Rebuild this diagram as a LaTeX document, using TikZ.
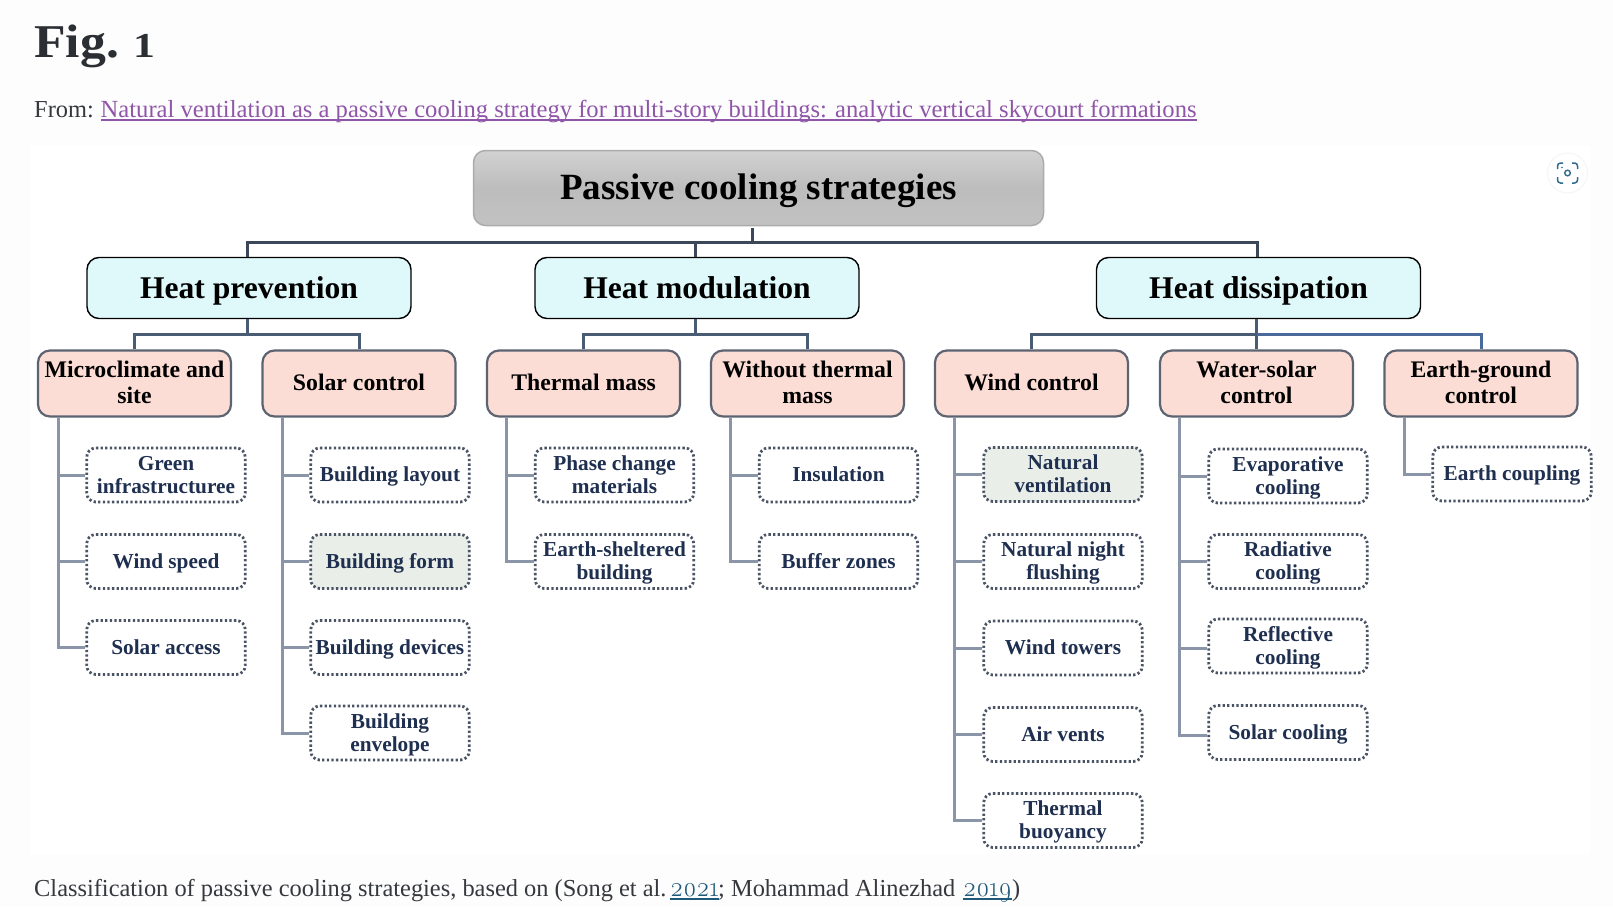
\documentclass[tikz,border=0pt]{standalone}
\usepackage{fontspec}
\usepackage{graphicx}
\setmainfont{Liberation Serif}
\newfontfamily\osf[Numbers=OldStyle]{Latin Modern Roman}
\usetikzlibrary{calc}
\definecolor{pagebg}{HTML}{FDFDFD}
\definecolor{headink}{HTML}{2B2E33}
\definecolor{bodyink}{HTML}{35383D}
\definecolor{linkp}{HTML}{8F55A8}
\definecolor{linkb}{HTML}{1F5A7A}
\definecolor{rootedge}{HTML}{ABABAB}
\definecolor{aquafill}{HTML}{DFF9FB}
\definecolor{pinkfill}{HTML}{FBDDD5}
\definecolor{pinkedge}{HTML}{5C6472}
\definecolor{dotedge}{HTML}{4A5464}
\definecolor{greenfill}{HTML}{E9EEE9}
\definecolor{leafink}{HTML}{1F2F50}
\definecolor{busdark}{HTML}{3C4859}
\definecolor{busmid}{HTML}{4A5C74}
\definecolor{busblue}{HTML}{4A6A9C}
\definecolor{trunk}{HTML}{8A96A8}
\definecolor{iconc}{HTML}{2F6A8F}
\newcommand\lvA[1]{\raisebox{0pt}[30pt][8pt]{#1}}
\newcommand\lvB[1]{\raisebox{0pt}[24pt][4pt]{#1}}
\newcommand\lvC[1]{\raisebox{0pt}[18pt][5pt]{#1}}
\newcommand\lvO[1]{\raisebox{0pt}[16pt][3pt]{#1}}
\newcommand\lvT[1]{\raisebox{0pt}[16pt][3pt]{#1}}
\tikzset{
 rootbox/.style={rectangle,rounded corners=12pt,draw=rootedge,line width=1.5pt,top color=black!18,bottom color=black!24,middle color=black!26,inner sep=0pt,minimum width=570pt,minimum height=75pt,font=\fontsize{37}{42}\selectfont\bfseries,text=black},
 headbox/.style={rectangle,rounded corners=12pt,draw=black,line width=1.4pt,fill=aquafill,inner sep=0pt,minimum width=324pt,minimum height=61pt,font=\fontsize{31.6}{35}\selectfont\bfseries,text=black},
 catbox/.style={rectangle,rounded corners=12pt,draw=pinkedge,line width=2.2pt,fill=pinkfill,inner sep=0pt,minimum width=193pt,minimum height=66pt,align=center,font=\fontsize{23.75}{26}\selectfont\bfseries,text=black},
 leafbox/.style={rectangle,rounded corners=9pt,draw=dotedge,line width=2.8pt,dash pattern=on 2.3pt off 2.3pt,inner sep=0pt,minimum width=158.5pt,minimum height=54pt,align=center,font=\fontsize{21.3}{23}\selectfont\bfseries,text=leafink},
 busa/.style={draw=busdark,line width=3pt},
 busb/.style={draw=busmid,line width=3pt},
 busc/.style={draw=busblue,line width=3pt},
 branch/.style={draw=trunk,line width=3pt},
 iconline/.style={draw=iconc,line width=1.5pt,rounded corners=3pt},
 headline/.style={anchor=base west,inner sep=0pt,text=bodyink,font=\fontsize{24.4}{28}\selectfont},
 linkline/.style={anchor=base west,inner sep=0pt,font=\fontsize{24.6}{28}\selectfont},
}
\begin{document}
\begin{tikzpicture}[x=1pt,y=-1pt]
\useasboundingbox (0,0) rectangle (1613,907);
\fill[pagebg] (0,0) rectangle (1613,907);
\fill[white] (30,146) rectangle (1590,855);

% page text
\node[anchor=base west,inner sep=0pt,text=headink,font=\fontsize{47}{50}\selectfont\bfseries] (figt) at (34,57) {\scalebox{1.1}[1]{Fig.}};
\node[anchor=base west,inner sep=0pt,text=headink,font=\fontsize{35}{40}\selectfont\bfseries] (fign) at (133,57) {\scalebox{1.25}[1]{1}};
\node[headline] (fromt) at (34,117) {From:};
\node[linkline,text=linkp] (linkt) at (100.5,117) {Natural ventilation as a passive cooling strategy for multi-story buildings: analytic vertical skycourt formations};
\draw[linkp,line width=1.2pt] ([yshift=-3pt]linkt.base west) -- ([yshift=-3pt]linkt.base east);
\node[headline] (capa) at (34,896) {Classification of passive cooling strategies, based on (Song et al.};
\node[linkline,text=linkb,font=\fontsize{28}{28}\osf] (yra) at (670,896) {\scalebox{.9}[1]{2021}};
\draw[linkb,line width=1.2pt] ([yshift=-3pt]yra.base west) -- ([yshift=-3pt]yra.base east);
\node[headline] (capb) at (718,896) {; Mohammad Alinezhad};
\node[linkline,text=linkb,font=\fontsize{28}{28}\osf] (yrb) at (963,896) {\scalebox{.9}[1]{2019}};
\draw[linkb,line width=1.2pt] ([yshift=-3pt]yrb.base west) -- ([yshift=-3pt]yrb.base east);
\node[headline] (capc) at (1012,896) {)};

% icon
\fill[white,draw=black!4,line width=1pt] (1567.5,173) circle (20);
\draw[iconline] (1557.5,169) -- (1557.5,163) -- (1563,163);
\draw[iconline] (1572,163) -- (1577.5,163) -- (1577.5,169);
\draw[iconline] (1557.5,177) -- (1557.5,183) -- (1563,183);
\draw[iconline] (1572,183) -- (1577.5,183) -- (1577.5,177);
\draw[iconc,line width=1.4pt] (1567.5,173) circle (2.8);
\fill[iconc] (1562,167.5) circle (0.9);

% level 0 and 1
\node[rootbox] (root) at (758.5,188) {\lvA{Passive cooling strategies}};
\node[headbox] (hp) at (249,288) {\lvB{Heat prevention}};
\node[headbox] (hm) at (697,288) {\lvB{Heat modulation}};
\node[headbox] (hd) at (1258.5,288) {\lvB{Heat dissipation}};

% level 2
\node[catbox] (micro) at (134.5,383.5) {\lvC{Microclimate and}\\\lvC{site}};
\node[catbox] (solar) at (359,383.5) {\lvC{Solar control}};
\node[catbox] (tmass) at (583.5,383.5) {\lvC{Thermal mass}};
\node[catbox] (wmass) at (807.5,383.5) {\lvC{Without thermal}\\\lvC{mass}};
\node[catbox] (wind) at (1031.5,383.5) {\lvC{Wind control}};
\node[catbox] (water) at (1256.5,383.5) {\lvC{Water-solar}\\\lvC{control}};
\node[catbox] (earth) at (1481,383.5) {\lvC{Earth-ground}\\\lvC{control}};

% level 3
\node[leafbox] (green) at (166,475) {\lvT{Green}\\\lvT{infrastructuree}};
\node[leafbox] (wspeed) at (166,561.5) {\lvO{Wind speed}};
\node[leafbox] (access) at (166,647.5) {\lvO{Solar access}};
\node[leafbox] (layout) at (390,475) {\lvO{Building layout}};
\node[leafbox,fill=greenfill] (bform) at (390,561.5) {\lvO{Building form}};
\node[leafbox] (devices) at (390,647.5) {\lvO{Building devices}};
\node[leafbox] (envelope) at (390,733) {\lvT{Building}\\\lvT{envelope}};
\node[leafbox] (phase) at (614.5,475) {\lvT{Phase change}\\\lvT{materials}};
\node[leafbox] (shelter) at (614.5,561.5) {\lvT{Earth-sheltered}\\\lvT{building}};
\node[leafbox] (insul) at (838.5,475) {\lvO{Insulation}};
\node[leafbox] (buffer) at (838.5,561.5) {\lvO{Buffer zones}};
\node[leafbox,fill=greenfill] (natvent) at (1063,474.5) {\lvT{Natural}\\\lvT{ventilation}};
\node[leafbox] (night) at (1063,561.5) {\lvT{Natural night}\\\lvT{flushing}};
\node[leafbox] (towers) at (1063,648) {\lvO{Wind towers}};
\node[leafbox] (vents) at (1063,734.5) {\lvO{Air vents}};
\node[leafbox] (buoy) at (1063,820.5) {\lvT{Thermal}\\\lvT{buoyancy}};
\node[leafbox] (evap) at (1288,476) {\lvT{Evaporative}\\\lvT{cooling}};
\node[leafbox] (radi) at (1288,561.5) {\lvT{Radiative}\\\lvT{cooling}};
\node[leafbox] (refl) at (1288,646) {\lvT{Reflective}\\\lvT{cooling}};
\node[leafbox] (scool) at (1288,732.5) {\lvO{Solar cooling}};
\node[leafbox] (ecoup) at (1512,474) {\lvO{Earth coupling}};

% connectors 0-1
\coordinate (bus0) at (752,242);
\coordinate (drop1) at (247,242);
\coordinate (drop2) at (695,242);
\coordinate (drop3) at (1257,242);
\draw[busa] ([yshift=-2pt]bus0 |- root.south) -- (bus0);
\draw[busa] (drop1 |- hp.north) -- (drop1) -- (drop3) -- (drop3 |- hd.north);
\draw[busa] (drop2) -- (drop2 |- hm.north);

% connectors 1-2
\coordinate (busp) at (247,334);
\coordinate (busm) at (695,334);
\coordinate (busd) at (1256.5,334);
\draw[busb] (busp |- hp.south) -- (busp);
\draw[busb] (micro.north) |- (busp) -| (solar.north);
\draw[busb] (busm |- hm.south) -- (busm);
\draw[busb] (tmass.north) |- (busm) -| (wmass.north);
\draw[busb] (busd |- hd.south) -- (water.north);
\draw[busb] (wind.north) |- (busd);
\draw[busc] (busd) -| (earth.north);

% trunks and branches
\foreach \parentn/\off/\leaves in {micro/21.4/{green,wspeed,access},solar/21.0/{layout,bform,devices,envelope},tmass/20.7/{phase,shelter},wmass/20.3/{insul,buffer},wind/20.8/{natvent,night,towers,vents,buoy},water/20.7/{evap,radi}}{
  \foreach \leafn in \leaves {
    \draw[branch] ([xshift=\off pt]\parentn.south west) |- (\leafn.west);
  }
}
\draw[branch] ([xshift=20.7pt]water.south west) |- ([yshift=-2pt]refl.west);
\draw[branch] ([xshift=20.7pt]water.south west) |- ([yshift=-2.5pt]scool.west);
\draw[branch] ([xshift=20.7pt]earth.south west) |- (ecoup.west);
\end{tikzpicture}
\end{document}
